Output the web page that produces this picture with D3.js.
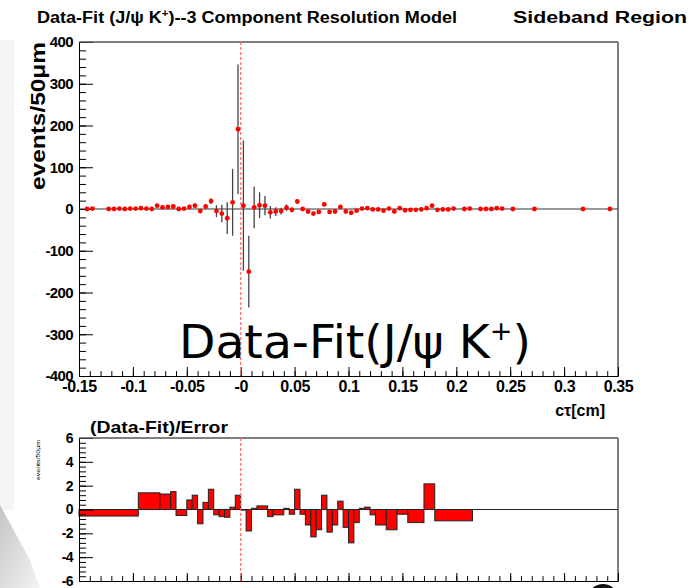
<!DOCTYPE html>
<html>
<head>
<meta charset="utf-8">
<script src="https://cdn.jsdelivr.net/npm/d3@7"></script>
<style>
  body { margin: 0; background: #fff; }
  svg text { font-family: "Liberation Sans", Arial, sans-serif; }
</style>
</head>
<body>
<div id="chart"></div>
<script>
// Upper panel: Data-Fit per bin (bin centre in cm, value, error)
var ctCenters = [-0.1425, -0.1375, -0.1225, -0.1175, -0.1125, -0.1075, -0.1025, -0.0975, -0.0925, -0.0875,
                 -0.0825, -0.0775, -0.0725, -0.0675, -0.0625, -0.0575, -0.0525, -0.0475, -0.0425, -0.0375,
                 -0.0325, -0.0275, -0.0225, -0.0175, -0.0125, -0.0075, -0.0025, 0.0025, 0.0075, 0.0125,
                 0.0175, 0.0225, 0.0275, 0.0325, 0.0375, 0.0425, 0.0475, 0.0525, 0.0575, 0.0625,
                 0.0675, 0.0725, 0.0775, 0.0825, 0.0875, 0.0925, 0.0975, 0.1025, 0.1075, 0.1125,
                 0.1175, 0.1225, 0.1275, 0.1325, 0.1375, 0.1425, 0.1475, 0.1525, 0.1575, 0.1625,
                 0.1675, 0.1725, 0.1775, 0.1825, 0.1875, 0.1925, 0.1975, 0.2075, 0.2125, 0.2225,
                 0.2275, 0.2325, 0.2375, 0.2425, 0.2525, 0.2725, 0.3175, 0.3425];
var dataMinusFit = [0, 1, 0, 0, 1, 0, 1, 1, 2, 1,
                    0, 8, 4, 5, 6, 0, 1, 5, 8, -5,
                    6, 19, -5, -11, -22, 16, 191, 8, -150, 4,
                    9, 8, -8, -6, -5, 3, -2, 18, 0, -6,
                    -11, -7, 11, -7, -6, 5, -6, -9, -4, 1,
                    2, -1, -1, -4, 1, -6, 2, -3, -2, -2,
                    -1, 2, 8, -2, -1, -1, 1, 0, 1, 0,
                    0, 0, 2, 1, 0, 0, 0, 0];
var dataErrors = [2, 2, 2, 2, 2, 2, 2, 3, 3, 3,
                  3, 4, 4, 4, 4, 4, 4, 5, 5, 5,
                  6, 7, 14, 21, 38, 80, 155, 156, 86, 50,
                  31, 23, 15, 10, 8, 8, 6, 5, 5, 4,
                  4, 4, 4, 4, 4, 3, 3, 3, 3, 3,
                  3, 3, 3, 3, 3, 3, 3, 3, 3, 3,
                  3, 3, 3, 3, 2, 2, 2, 2, 2, 2,
                  2, 2, 2, 2, 2, 2, 2, 2];

// Lower panel: (Data-Fit)/Error, variable-width bins
var resEdges = [-0.15, -0.095, -0.075, -0.065, -0.06, -0.05, -0.045, -0.04, -0.035, -0.03,
                -0.025, -0.02, -0.015, -0.01, -0.005, 0, 0.005, 0.01, 0.015, 0.025,
                0.03, 0.04, 0.045, 0.05, 0.055, 0.06, 0.065, 0.07, 0.075, 0.08,
                0.085, 0.09, 0.095, 0.1, 0.105, 0.11, 0.115, 0.12, 0.125, 0.135,
                0.145, 0.155, 0.17, 0.18, 0.215, 0.35];
var resValues = [-0.55, 1.4, 1.3, 1.5, -0.5, 0.8, 1.2, -1.2, 0.6, 1.7,
                 -0.45, -0.6, -0.65, 0.2, 1.2, -0.05, -1.8, 0.1, 0.3, -0.6,
                 -0.45, 0.1, -0.4, 1.7, -0.4, -1.3, -2.3, -1.7, 1.2, -1.9,
                 -1.3, 0.7, -1.5, -2.8, -1.1, 0.1, 0.2, -0.45, -1.3, -1.7,
                 -0.4, -1.1, 2.15, -0.95, 0];

// Tick labels
var xTickValues = [-0.15, -0.1, -0.05, 0, 0.05, 0.1, 0.15, 0.2, 0.25, 0.3, 0.35];
var xTickLabels = ["-0.15", "-0.1", "-0.05", "-0", "0.05", "0.1", "0.15", "0.2", "0.25", "0.3", "0.35"];
var yTickValues = [-400, -300, -200, -100, 0, 100, 200, 300, 400];
var resTickValues = [-6, -4, -2, 0, 2, 4, 6];

var w = 691, h = 588;
var left = 79, right = 618;

var svg = d3.select("#chart").append("svg")
    .attr("width", w)
    .attr("height", h);

// faint slide background leftovers
var grad = svg.append("defs").append("linearGradient")
    .attr("id", "fade").attr("x1", "0").attr("y1", "0").attr("x2", "1").attr("y2", "1");
grad.append("stop").attr("offset", "0").attr("stop-color", "#c4c4c4");
grad.append("stop").attr("offset", "1").attr("stop-color", "#f4f4f4");
svg.append("rect").attr("x", 0).attr("y", 40).attr("width", 14).attr("height", 470).attr("fill", "#f5f5f5");
svg.append("path").attr("d", "M0,505 L30,560 L40,588 L0,588 Z").attr("fill", "url(#fade)");

var xScale = d3.scaleLinear().domain([-0.15, 0.35]).range([left, right]);
var yScale = d3.scaleLinear().domain([-400, 400]).range([376, 42]);
var rScale = d3.scaleLinear().domain([-6, 6]).range([581, 438]);

// ---------- titles ----------
svg.append("text")
    .attr("x", 37).attr("y", 23)
    .attr("font-size", 16).attr("font-weight", "bold")
    .attr("textLength", 420).attr("lengthAdjust", "spacingAndGlyphs")
    .html("Data-Fit (J/&#968; K<tspan font-size='10' dy='-6'>+</tspan><tspan dy='6'>)--3 Component Resolution Model</tspan>");

svg.append("text")
    .attr("x", 513).attr("y", 23)
    .attr("font-size", 16).attr("font-weight", "bold")
    .attr("textLength", 174).attr("lengthAdjust", "spacingAndGlyphs")
    .text("Sideband Region");

// ---------- frame helper ----------
function drawFrame(g, yS, yMajor, yMinor, xMinor, majorLen, minorLen, labelSize) {
    // minor ticks
    g.append("g")
        .attr("transform", `translate(${left},0)`)
        .call(d3.axisLeft(yS).tickValues(yMinor).tickSize(-minorLen).tickFormat(""))
        .call(s => s.select(".domain").remove());
    g.append("g")
        .attr("transform", `translate(0,${yS.range()[0]})`)
        .call(d3.axisBottom(xScale).tickValues(xMinor).tickSize(-minorLen * 0.7).tickFormat(""))
        .call(s => s.select(".domain").remove());
    // major y ticks + labels (plain hyphen for negatives)
    g.append("g")
        .attr("transform", `translate(${left},0)`)
        .call(d3.axisLeft(yS).tickValues(yMajor).tickSize(-majorLen).tickPadding(6).tickFormat(d => String(d)))
        .call(s => s.select(".domain").attr("stroke", "#000"))
        .selectAll("text")
        .attr("font-size", labelSize).attr("font-weight", "bold").attr("fill", "#000")
        .attr("letter-spacing", -0.6);
    // top and right frame
    g.append("line").attr("x1", left).attr("x2", right).attr("y1", yS.range()[1]).attr("y2", yS.range()[1])
        .attr("stroke", "#555").attr("stroke-width", 1.5);
    g.append("line").attr("x1", right).attr("x2", right).attr("y1", yS.range()[1]).attr("y2", yS.range()[0])
        .attr("stroke", "#555").attr("stroke-width", 1.5);
}

// ---------- upper panel ----------
var xMinorTicks = d3.range(-15, 36).map(d => d / 100);
var upper = svg.append("g");
drawFrame(upper, yScale, yTickValues, d3.range(-400, 401, 20), xMinorTicks, 14, 7, 15);

// x axis with labels
upper.append("g")
    .attr("transform", `translate(0,376)`)
    .call(d3.axisBottom(xScale).tickValues(xTickValues).tickSize(-9).tickPadding(5)
        .tickFormat((d, i) => xTickLabels[i]))
    .call(s => s.select(".domain").attr("stroke", "#000"))
    .selectAll("text")
    .attr("font-size", 16).attr("font-weight", "bold").attr("fill", "#000")
    .attr("letter-spacing", -0.4);

// zero line
upper.append("line")
    .attr("x1", left).attr("x2", right)
    .attr("y1", yScale(0)).attr("y2", yScale(0))
    .attr("stroke", "#333").attr("stroke-width", 1);

// red dashed line at ct = 0
upper.append("line")
    .attr("x1", xScale(0)).attr("x2", xScale(0))
    .attr("y1", 42).attr("y2", 376)
    .attr("stroke", "#ff6b6b").attr("stroke-width", 1.2).attr("stroke-dasharray", "3,2");

// error bars
upper.selectAll("line.err")
    .data(ctCenters)
    .enter().append("line")
    .attr("class", "err")
    .attr("x1", d => xScale(d)).attr("x2", d => xScale(d))
    .attr("y1", (d, i) => yScale(dataMinusFit[i] + dataErrors[i]))
    .attr("y2", (d, i) => yScale(dataMinusFit[i] - dataErrors[i]))
    .attr("stroke", "#444").attr("stroke-width", 1.3);

// data points
upper.selectAll("circle")
    .data(ctCenters)
    .enter().append("circle")
    .attr("cx", d => xScale(d))
    .attr("cy", (d, i) => yScale(dataMinusFit[i]))
    .attr("r", 2.4)
    .attr("fill", "#ff0000");

// axis titles
svg.append("text")
    .attr("transform", "translate(45,190) rotate(-90)")
    .attr("font-size", 20).attr("font-weight", "bold")
    .attr("textLength", 148).attr("lengthAdjust", "spacingAndGlyphs")
    .text("events/50\u03bcm");

svg.append("text")
    .attr("x", 605).attr("y", 416)
    .attr("text-anchor", "end")
    .attr("font-size", 16).attr("font-weight", "bold")
    .text("c\u03c4[cm]");

// big overlay label
svg.append("text")
    .attr("x", 179).attr("y", 358)
    .style("font-family", "'DejaVu Sans', sans-serif")
    .attr("font-size", 47)
    .attr("textLength", 352).attr("lengthAdjust", "spacingAndGlyphs")
    .html("Data-Fit(J/&#968; K<tspan font-size='27' dy='-18'>+</tspan><tspan dy='18'>)</tspan>");

// ---------- lower panel ----------
var lower = svg.append("g");

// histogram bars
lower.selectAll("rect.res")
    .data(resValues)
    .enter().append("rect")
    .attr("class", "res")
    .attr("x", (d, i) => xScale(resEdges[i]))
    .attr("width", (d, i) => xScale(resEdges[i + 1]) - xScale(resEdges[i]))
    .attr("y", d => rScale(Math.max(d, 0)))
    .attr("height", d => Math.abs(rScale(d) - rScale(0)))
    .attr("fill", "#ff0000")
    .attr("stroke", "#222").attr("stroke-width", 1);

lower.append("line")
    .attr("x1", left).attr("x2", right)
    .attr("y1", rScale(0)).attr("y2", rScale(0))
    .attr("stroke", "#222").attr("stroke-width", 1.2);

drawFrame(lower, rScale, resTickValues, d3.range(-6, 6.01, 0.4), xMinorTicks, 14, 7, 14);

lower.append("g")
    .attr("transform", `translate(0,581)`)
    .call(d3.axisBottom(xScale).tickValues(xTickValues).tickSize(-8).tickFormat(""))
    .call(s => s.select(".domain").attr("stroke", "#000"));

lower.append("line")
    .attr("x1", xScale(0)).attr("x2", xScale(0))
    .attr("y1", 438).attr("y2", 581)
    .attr("stroke", "#ff6b6b").attr("stroke-width", 1.2).attr("stroke-dasharray", "3,2");

svg.append("text")
    .attr("x", 90).attr("y", 433)
    .attr("font-size", 17).attr("font-weight", "bold")
    .attr("textLength", 138).attr("lengthAdjust", "spacingAndGlyphs")
    .text("(Data-Fit)/Error");

svg.append("text")
    .attr("transform", "translate(40,480) rotate(-90)")
    .attr("font-size", 6)
    .attr("textLength", 40).attr("lengthAdjust", "spacingAndGlyphs")
    .text("events/50\u03bcm");

// dark blob at the bottom edge
svg.append("ellipse").attr("cx", 603).attr("cy", 596).attr("rx", 14).attr("ry", 12).attr("fill", "#111");
</script>
</body>
</html>
